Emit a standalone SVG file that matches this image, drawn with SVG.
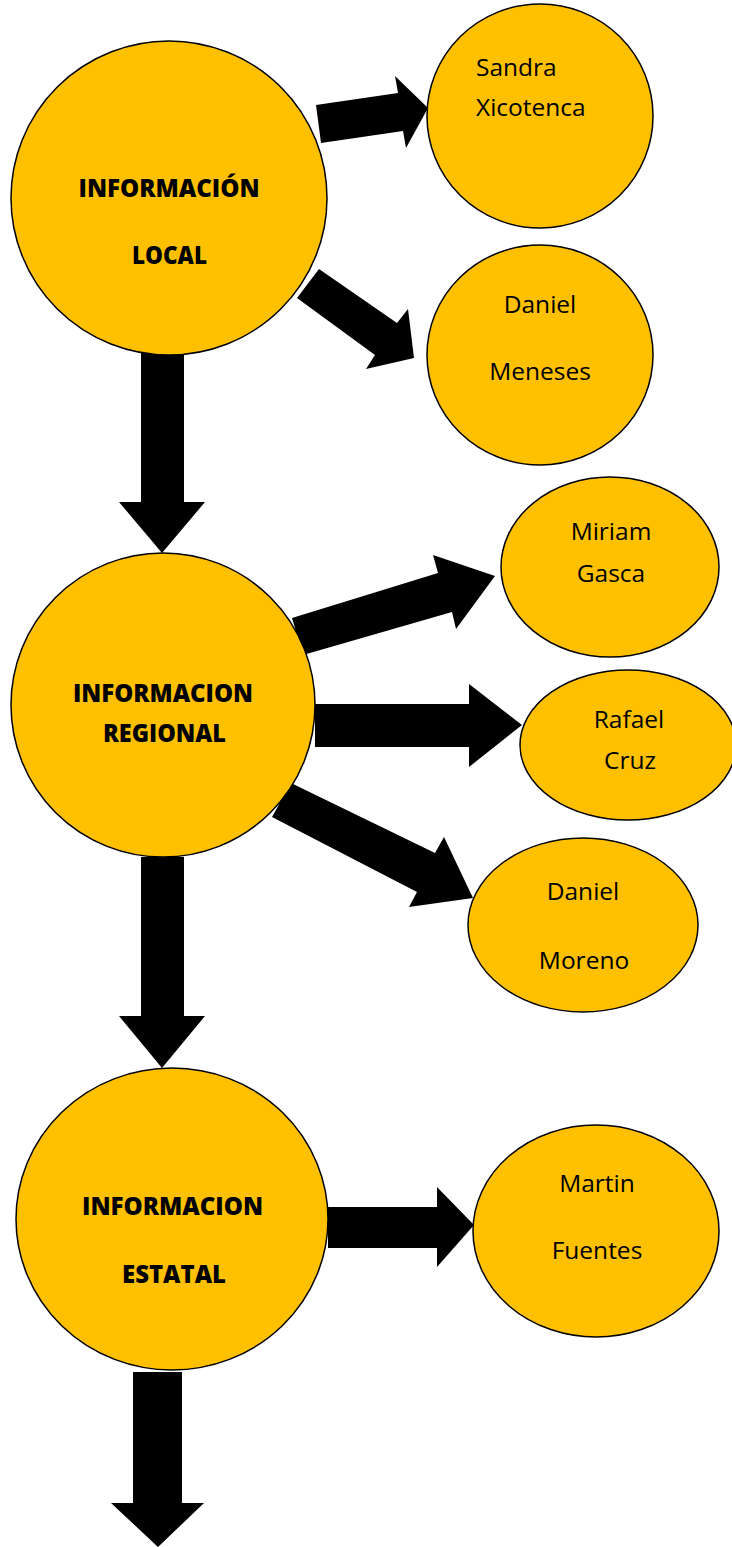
<svg xmlns="http://www.w3.org/2000/svg" width="732" height="1547" viewBox="0 0 732 1547">
<style>
.node ellipse{fill:#FFC000;stroke:#000;stroke-width:1.5}
.t{font-family:"Open Sans","Liberation Sans",sans-serif;font-size:24.5px;fill:#000}
.b{font-family:"Open Sans","Liberation Sans",sans-serif;font-size:24px;font-weight:800;fill:#000}
.c{text-anchor:middle}
#connectors polygon{fill:#000;stroke:none}
</style>
<rect width="732" height="1547" fill="#fff"/>
<g id="connectors">
<polygon points="316,105 398,93 395,76 428,108 406,148 403,131 321,143"/>
<polygon points="319,269 397,323 408,309 414,358 366,369 375,355 297,298"/>
<polygon points="141,347 184,347 184,502 205,502 162,553 119,502 141,502"/>
<polygon points="292,618 438,573 433,555 495,576 456,629 452,612 303,655"/>
<polygon points="315,704 469,704 469,684 522,725 469,767 469,747 315,747"/>
<polygon points="291,783 435,853 444,837 473,898 409,907 417,892 272,817"/>
<polygon points="141,857 184,857 184,1016 205,1016 162,1068 119,1016 141,1016"/>
<polygon points="328,1207 437,1207 437,1187 474,1225 437,1267 437,1248 328,1248"/>
<polygon points="133,1372 182,1372 182,1503 204,1503 158,1547 111,1503 133,1503"/>
</g>
<g id="local" class="node"><ellipse cx="169" cy="198" rx="158" ry="157"/>
<text class="b c" x="169" y="197" textLength="181" lengthAdjust="spacingAndGlyphs">INFORMACIÓN</text>
<text class="b c" x="169.5" y="264" textLength="75" lengthAdjust="spacingAndGlyphs">LOCAL</text></g>
<g id="sandra" class="node"><ellipse cx="540" cy="116" rx="113" ry="112"/>
<text class="t" x="476" y="76">Sandra</text>
<text class="t" x="476" y="116">Xicotenca</text></g>
<g id="meneses" class="node"><ellipse cx="540" cy="355" rx="113" ry="110"/>
<text class="t c" x="540" y="313">Daniel</text>
<text class="t c" x="540" y="380">Meneses</text></g>
<g id="regional" class="node"><ellipse cx="163" cy="705" rx="152" ry="152"/>
<text class="b c" x="163" y="702" textLength="180" lengthAdjust="spacingAndGlyphs">INFORMACION</text>
<text class="b c" x="164.5" y="742" textLength="123" lengthAdjust="spacingAndGlyphs">REGIONAL</text></g>
<g id="gasca" class="node"><ellipse cx="610" cy="567" rx="109" ry="90"/>
<text class="t c" x="611" y="540">Miriam</text>
<text class="t c" x="611" y="582">Gasca</text></g>
<g id="cruz" class="node"><ellipse cx="628" cy="745" rx="108" ry="75"/>
<text class="t c" x="629" y="728">Rafael</text>
<text class="t c" x="630" y="769">Cruz</text></g>
<g id="moreno" class="node"><ellipse cx="583" cy="925" rx="115" ry="87"/>
<text class="t c" x="583" y="900">Daniel</text>
<text class="t c" x="584" y="969">Moreno</text></g>
<g id="estatal" class="node"><ellipse cx="172" cy="1219" rx="156" ry="151"/>
<text class="b c" x="172.5" y="1215" textLength="181" lengthAdjust="spacingAndGlyphs">INFORMACION</text>
<text class="b c" x="174" y="1283" textLength="104" lengthAdjust="spacingAndGlyphs">ESTATAL</text></g>
<g id="fuentes" class="node"><ellipse cx="596" cy="1231" rx="123" ry="106"/>
<text class="t c" x="597" y="1192">Martin</text>
<text class="t c" x="597" y="1259">Fuentes</text></g>
</svg>
